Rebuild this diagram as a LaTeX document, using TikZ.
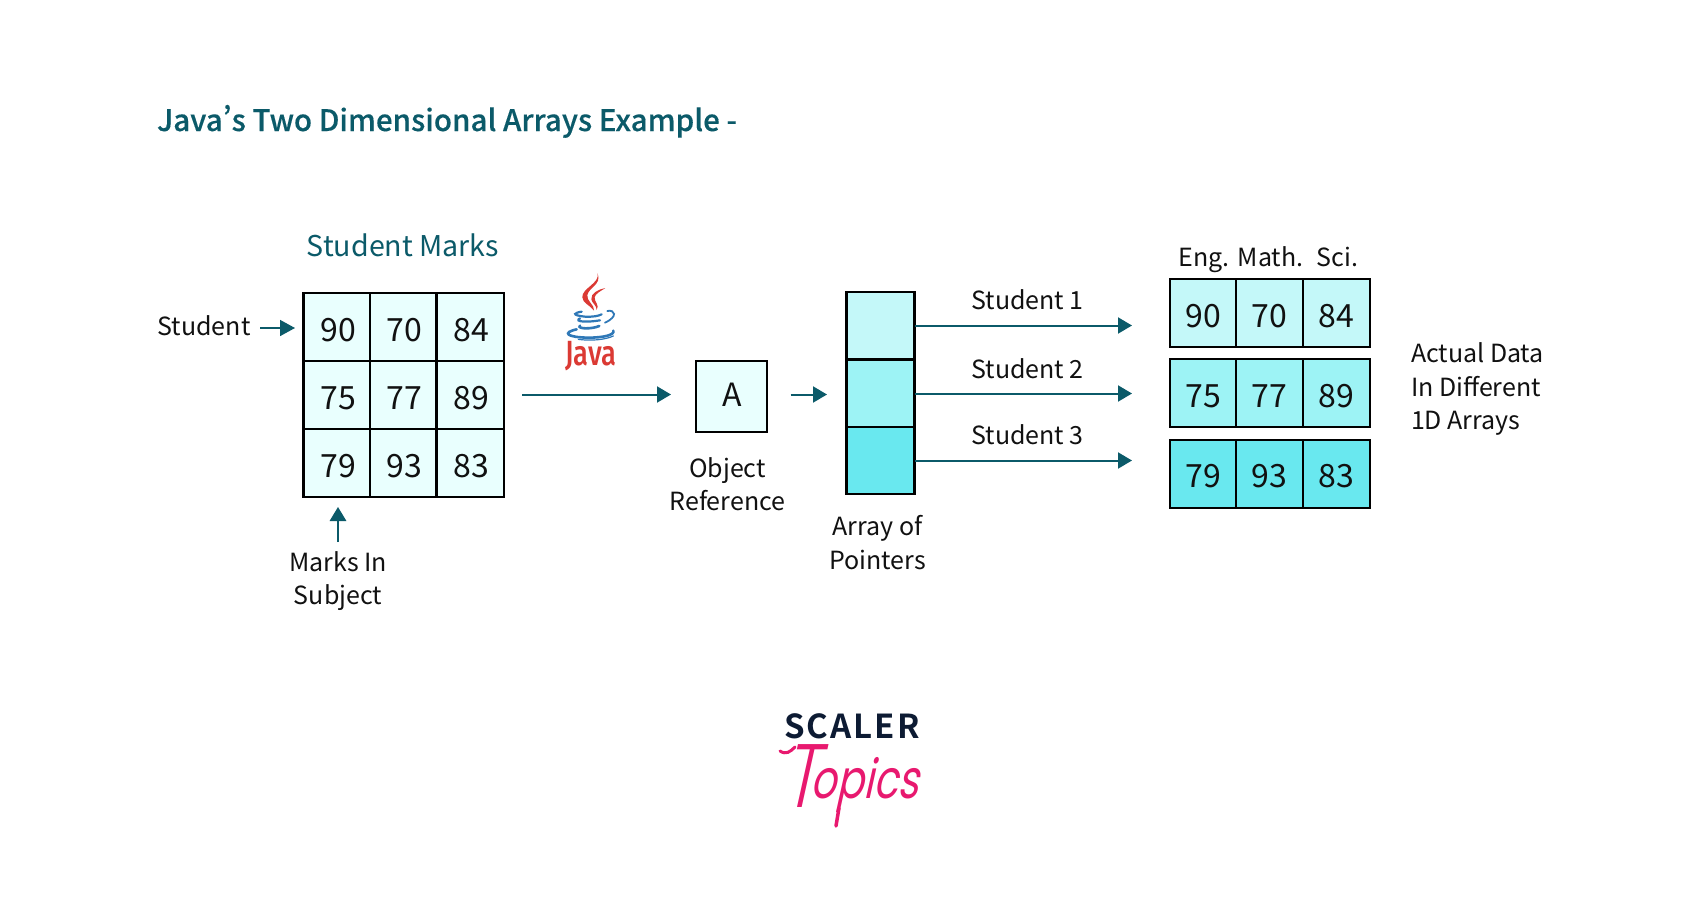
\documentclass[tikz,border=0pt]{standalone}
\usepackage{fontspec}
\setmainfont{Noto Sans CJK SC}
\newfontfamily\medf[RawFeature=+pwid,FakeBold=0.25]{Noto Sans CJK SC Medium}
\newfontfamily\boldf{Noto Sans CJK SC Bold}
\newfontfamily\tpf[FakeSlant=0.3]{Poppins}
\newfontfamily\tpl[FakeSlant=0.3]{Poppins Light}
\newfontfamily\javaf{Fira Sans Medium}
\usetikzlibrary{arrows.meta}
\definecolor{teal1}{HTML}{0B5A69}
\definecolor{ink}{HTML}{111111}
\definecolor{gridfill}{HTML}{E9FFFE}
\definecolor{rowa}{HTML}{C4F8F9}
\definecolor{rowb}{HTML}{9DF3F5}
\definecolor{rowc}{HTML}{69E8EF}
\definecolor{jred}{HTML}{DB3A34}
\definecolor{jblue}{HTML}{2F78B7}
\definecolor{navy}{HTML}{0D1B33}
\definecolor{pink1}{HTML}{E8196F}
\tikzset{
  x=1pt,y=-1pt,
  every node/.style={inner sep=0pt,outer sep=0pt,text=ink},
  lab/.style={font=\fontsize{25}{33.5}\selectfont,align=center},
  llab/.style={font=\fontsize{25}{33.5}\selectfont,align=left},
  num/.style={font=\fontsize{32}{32}\selectfont,anchor=base},
  gcell/.style={draw=black,line width=2.6pt,fill=gridfill,minimum width=66.5pt,minimum height=68pt},
  acell/.style={draw=black,line width=2pt,minimum width=66.8pt,minimum height=68pt},
  pcell/.style={draw=black,line width=2.2pt,minimum width=68pt,minimum height=67.5pt},
  arr/.style={draw=teal1,line width=2pt,-{Triangle[length=14pt,width=16pt]}},
}
\begin{document}
\begin{tikzpicture}
\path[use as bounding box,fill=white] (0,0) rectangle (1701,924);
% title
\node[anchor=base west,text=teal1,font=\medf\fontsize{29.6}{36}\selectfont] (title) at (157,131) {Java’s Two Dimensional Arrays Example -};
\node[anchor=base,text=teal1,font=\fontsize{28.6}{36}\selectfont] (smarks) at (403,256) {Student Marks};
% grid
\foreach \r/\yy/\a/\b/\c in {0/327/90/70/84,1/395/75/77/89,2/463/79/93/83}{
  \node[gcell] (g\r0) at (336.7,\yy) {};
  \node[gcell] (g\r1) at (403.2,\yy) {};
  \node[gcell,minimum width=67.5pt] (g\r2) at (470.2,\yy) {};
  \node[num] (gt\r0) at (338.5,\yy+14.5) {\a};
  \node[num] (gt\r1) at (404.3,\yy+14.5) {\b};
  \node[num] (gt\r2) at (471.5,\yy+14.5) {\c};
}
% labels
\node[anchor=base,lab] (student) at (204,335.5) {Student};
\coordinate (sa) at (260,328);
\coordinate (sb) at (295,328);
\draw[arr,line width=1.6pt,-{Triangle[length=15pt,width=16pt]}] (sa) -- (sb);
\node[lab] (marks) at (338,581) {Marks In\\Subject};
\coordinate (ma) at (338,542);
\coordinate (mb) at (338,507);
\draw[arr,line width=1.6pt,-{Triangle[length=14pt,width=16.5pt]}] (ma) -- (mb);
% java logo
\begin{scope}[shift={(550,260)},x=.3333pt,y=-.3333pt]
  \fill[jred] (143,40) .. controls (150,70) and (95,85) .. (97,112) .. controls (98,130) and (120,135) .. (132,152) .. controls (135,135) and (108,122) .. (112,105) .. controls (118,80) and (155,75) .. (143,40) -- cycle;
  \fill[jred] (166,84) .. controls (145,88) and (122,100) .. (124,118) .. controls (126,130) and (140,135) .. (140,150) .. controls (150,135) and (132,125) .. (134,112) .. controls (136,100) and (155,92) .. (166,84) -- cycle;
  \draw[jblue,line width=2.2pt,line cap=round] (95,155) .. controls (75,158) and (60,165) .. (105,170) .. controls (130,171) and (145,168) .. (155,163);
  \draw[jblue,line width=2.2pt,line cap=round] (90,175) .. controls (70,185) and (110,188) .. (150,181);
  \draw[jblue,line width=2.6pt,line cap=round] (90,197) .. controls (80,207) and (125,208) .. (148,198);
  \draw[jblue,line width=1.8pt,line cap=round] (172,153) .. controls (195,148) and (205,170) .. (165,188);
  \draw[jblue,line width=2.6pt,line cap=round] (80,208) .. controls (35,218) and (50,232) .. (115,233) .. controls (160,233) and (195,225) .. (190,212);
  \draw[jblue,line width=1.2pt,line cap=round] (85,238) .. controls (120,243) and (165,240) .. (190,228);
\end{scope}
\node[anchor=base,text=jred,font=\javaf\fontsize{35}{35}\selectfont,xscale=.78] (javat) at (591,365) {Java};
% arrow to A
\node[draw=black,line width=2pt,fill=gridfill,minimum width=71pt,minimum height=71pt] (A) at (731,396) {};
\node[anchor=base,font=\fontsize{32}{32}\selectfont] (At) at (732,406) {A};
\coordinate (ba) at (522,394.5);
\coordinate (bb) at (671,394.5);
\draw[arr] (ba) -- (bb);
\node[lab] (objref) at (727.5,484) {Object\\Reference};
% pointers
\node[pcell,fill=rowa] (p1) at (880.5,325.5) {};
\node[pcell,fill=rowb] (p2) at (880.5,393.5) {};
\node[pcell,fill=rowc] (p3) at (880.5,460.5) {};
\coordinate (aa) at (790.5,394.5);
\coordinate (ab) at (827,394.5);
\draw[arr] (aa) -- (ab);
\node[lab] (aop) at (877.5,542.5) {Array of\\Pointers};
% data arrays
\foreach \r/\yy/\col/\a/\b/\c in {1/313/rowa/90/70/84,2/393/rowb/75/77/89,3/473.5/rowc/79/93/83}{
  \node[acell,fill=\col] (d\r0) at (1203,\yy) {};
  \node[acell,fill=\col] (d\r1) at (1269.8,\yy) {};
  \node[acell,fill=\col] (d\r2) at (1336.6,\yy) {};
  \node[num] (dt\r0) at (1203.5,\yy+14) {\a};
  \node[num] (dt\r1) at (1269.5,\yy+14) {\b};
  \node[num] (dt\r2) at (1336,\yy+14) {\c};
}
\coordinate (t1) at (1132,325.5);
\coordinate (t2) at (1132,393.5);
\coordinate (t3) at (1132,460.5);
\draw[arr] (p1.east) -- (t1);
\draw[arr] (p2.east) -- (t2);
\draw[arr] (p3.east) -- (t3);
\node[anchor=base,lab] (s1) at (1027.5,309) {Student 1};
\node[anchor=base,lab] (s2) at (1027.5,378) {Student 2};
\node[anchor=base,lab] (s3) at (1027.5,444) {Student 3};
\node[anchor=base,lab] (eng) at (1204,266) {Eng.};
\node[anchor=base,lab] (math) at (1270.5,266) {Math.};
\node[anchor=base,lab] (sci) at (1337.5,266) {Sci.};
\node[llab,anchor=west] (actual) at (1411,389) {Actual Data\\In Different\\1D Arrays};
% logo
\node[anchor=base,text=navy,font=\boldf\fontsize{33}{35}\selectfont] (scaler) at (852,738) {S\kern2pt C\kern2pt A\kern2pt L\kern2pt E\kern2pt R};
\node[anchor=base west,text=pink1,font=\tpf\fontsize{54}{54}\selectfont,xscale=.74] (topics) at (782,798) {\raisebox{-9pt}{\tpl\fontsize{90}{90}\selectfont T}\kern-8pt opics};
\coordinate (swa) at (780,751);
\coordinate (swb) at (795,747);
\draw[pink1,line width=3pt,line cap=round] (swa) .. controls (786,755) and (790,752) .. (swb);
\coordinate (pa) at (839,808);
\coordinate (pb) at (836,826);
\draw[pink1,line width=3.5pt,line cap=round] (pa) -- (pb);
\end{tikzpicture}
\end{document}
